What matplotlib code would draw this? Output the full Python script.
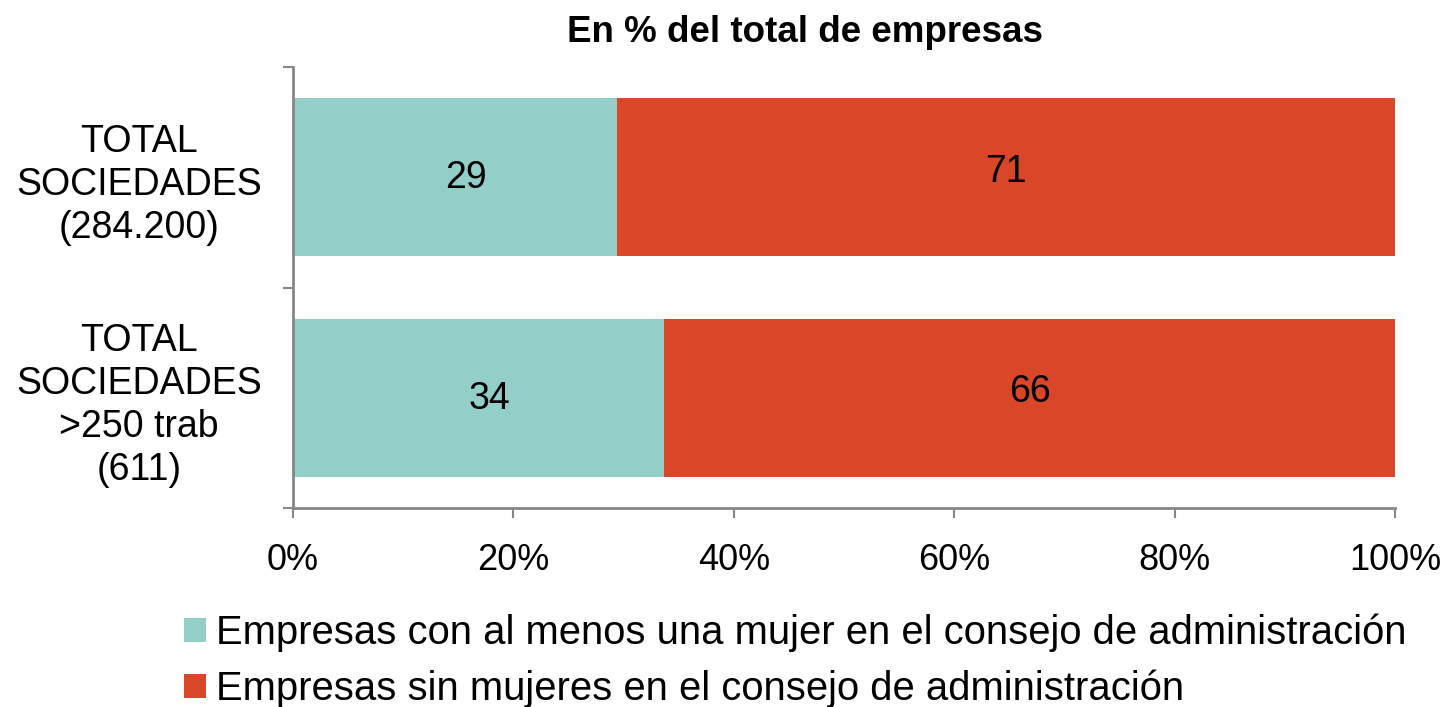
import matplotlib
matplotlib.use("Agg")
import matplotlib.pyplot as plt
from matplotlib.patches import Patch

plt.rcParams['font.family'] = ['Liberation Sans', 'DejaVu Sans']

categories = ["TOTAL\nSOCIEDADES\n(284.200)", "TOTAL\nSOCIEDADES\n>250 trab\n(611)"]
con_mujer = [29.4, 33.7]
sin_mujer = [70.6, 66.3]
labels_con = ["29", "34"]
labels_sin = ["71", "66"]
series_names = ["Empresas con al menos una mujer en el consejo de administración",
                "Empresas sin mujeres en el consejo de administración"]
xticks = [0, 20, 40, 60, 80, 100]
xticklabels = ["0%", "20%", "40%", "60%", "80%", "100%"]
title = "En % del total de empresas"

teal = "#93CFC8"
red = "#D94628"
grey = "#868686"

fig = plt.figure(figsize=(14.46, 7.07), dpi=100)
ax = fig.add_axes([293/1446, 1-508/707, 1102/1446, 441/707])

ypos = [0, 1]
bh = 0.716
ax.barh(ypos, con_mujer, height=bh, color=teal, edgecolor='none')
ax.barh(ypos, sin_mujer, left=con_mujer, height=bh, color=red, edgecolor='none')

for y, c, s, lc, ls in zip(ypos, con_mujer, sin_mujer, labels_con, labels_sin):
    ax.text(c/2 + 1, y + 0.005, lc, ha='center', va='center', fontsize=27)
    ax.text(c + s/2, y - 0.025, ls, ha='center', va='center', fontsize=27)

ax.set_xlim(0, 100)
ax.set_ylim(1.5, -0.5)
ax.set_xticks(xticks)
ax.set_xticklabels(xticklabels, fontsize=26)
ax.set_yticks([-0.5, 0.5, 1.5])
ax.set_yticklabels([])
ax.set_yticks(ypos, minor=True)
ax.set_yticklabels(categories, minor=True, fontsize=27, ha='center', multialignment='center',
                   linespacing=1.25)
ax.tick_params(axis='y', which='minor', length=0, pad=111)
ax.tick_params(axis='y', which='major', length=7, width=1.5, color=grey, direction='out')
ax.tick_params(axis='x', length=7, width=1.5, color=grey, direction='out', pad=18)

for sp in ['top', 'right']:
    ax.spines[sp].set_visible(False)
for sp in ['left', 'bottom']:
    ax.spines[sp].set_color(grey)
    ax.spines[sp].set_linewidth(2)

fig.text(805/1446, 1-32/707, title, ha='center', va='center', fontsize=26.5, fontweight='bold')

handles = [Patch(facecolor=teal, edgecolor='none'), Patch(facecolor=red, edgecolor='none')]
fig.legend(handles, series_names, loc='upper left', bbox_to_anchor=(184/1446, 1-614/707),
           frameon=False, fontsize=28.8, handlelength=0.55, handleheight=0.55,
           handletextpad=0.25, labelspacing=0.42, borderaxespad=0, borderpad=0)

fig.savefig("out.png", dpi=100)
